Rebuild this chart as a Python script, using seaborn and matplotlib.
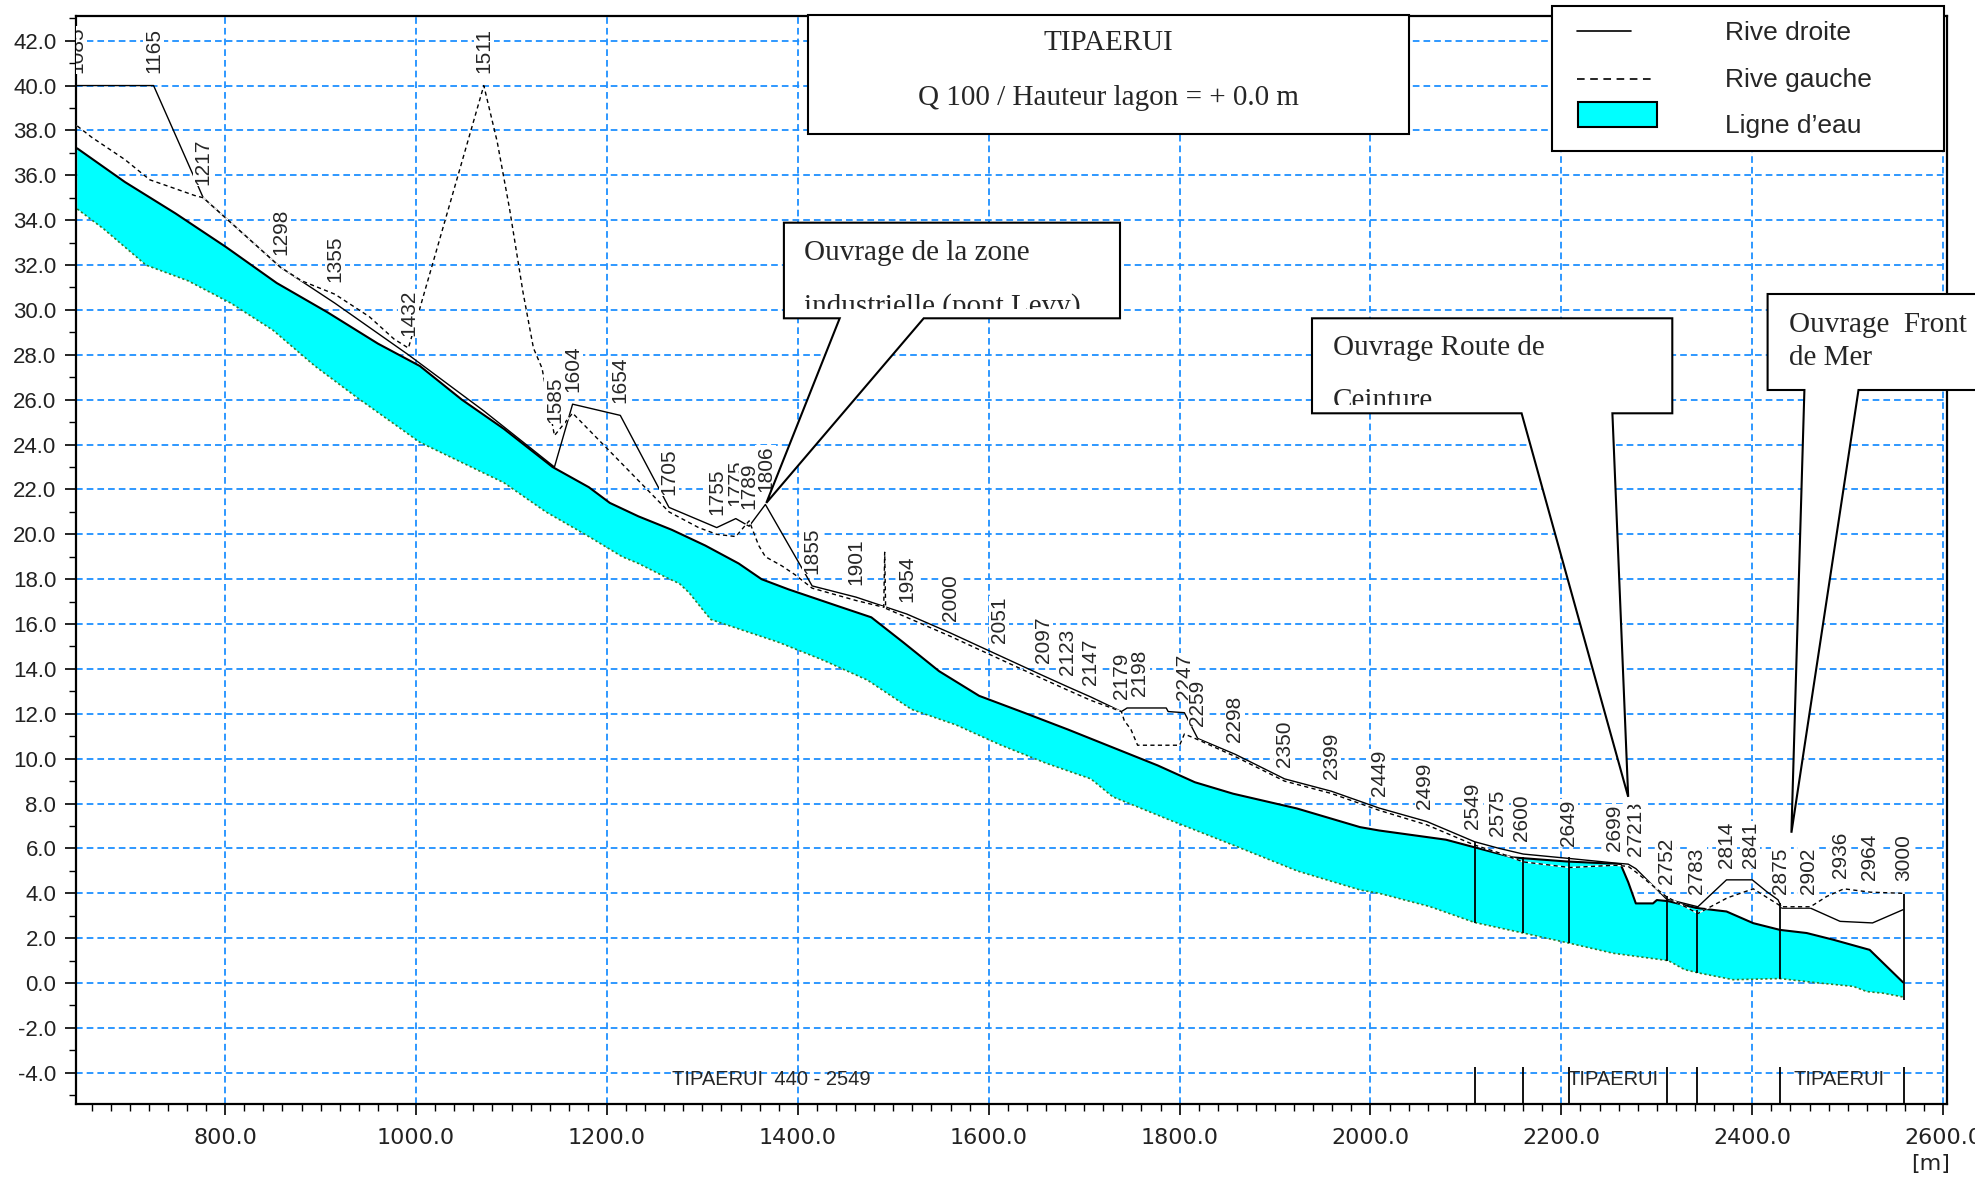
import numpy as np
import matplotlib
matplotlib.use("Agg")
import matplotlib.pyplot as plt
import seaborn as sns
from matplotlib.patches import Rectangle, Polygon
from matplotlib.lines import Line2D
from matplotlib.ticker import MultipleLocator, FormatStrFormatter

# long profile of the river, x = distance along axis [m], z = level [m]
# right bank (rive droite)
rb_x = [645, 725, 777, 858, 915, 992, 1071, 1145, 1164, 1214, 1265, 1315, 1335, 1349, 1366,
        1415, 1461, 1514, 1560, 1611, 1657, 1683, 1707, 1739, 1745, 1786, 1788, 1805, 1819,
        1858, 1910, 1959, 2009, 2059, 2109, 2135, 2160, 2209, 2256, 2270, 2278, 2310, 2343,
        2373, 2400, 2415, 2427, 2431, 2461, 2492, 2526, 2558]
rb_z = [40.0, 40.0, 35.0, 31.9, 30.3, 28.0, 25.5, 23.0, 25.8, 25.3, 21.2, 20.3, 20.7, 20.36, 21.33,
        17.7, 17.2, 16.45, 15.6, 14.6, 13.7, 13.2, 12.75, 12.1, 12.26, 12.26, 12.1, 12.05, 10.9,
        10.2, 9.1, 8.55, 7.8, 7.2, 6.3, 6.0, 5.75, 5.55, 5.35, 5.3, 5.1, 3.75, 3.4,
        4.6, 4.6, 4.08, 3.71, 3.34, 3.34, 2.75, 2.68, 3.27]

# left bank (rive gauche)
lb_x = [645, 660, 695, 721, 748, 768, 777, 858, 880, 915, 951, 977, 992, 1071, 1085, 1098, 1112,
        1123, 1132, 1145, 1164, 1265, 1296, 1315, 1335, 1349, 1359, 1366, 1383, 1397, 1415, 1461,
        1490, 1491, 1492, 1514, 1560, 1611, 1657, 1683, 1707, 1739, 1742, 1749, 1756, 1800, 1805,
        1819, 1858, 1910, 1959, 2009, 2059, 2109, 2135, 2160, 2209, 2256, 2270, 2278, 2310, 2343,
        2374, 2401, 2431, 2461, 2478, 2496, 2524, 2558]
lb_z = [38.2, 37.7, 36.7, 35.8, 35.4, 35.1, 35.0, 31.9, 31.3, 30.7, 29.7, 28.7, 28.3, 40.0, 37.5, 34.5, 30.8,
        28.3, 27.4, 24.4, 25.4, 21.0, 20.3, 20.0, 19.9, 20.6, 19.5, 19.0, 18.6, 18.2, 17.6, 17.05,
        16.75, 19.2, 16.7, 16.3, 15.45, 14.45, 13.55, 13.05, 12.6, 12.1, 11.7, 11.3, 10.6, 10.6, 11.1,
        10.85, 10.1, 9.0, 8.45, 7.7, 7.05, 6.15, 5.8, 5.4, 5.15, 5.25, 5.2, 4.95, 3.85, 3.1,
        3.8, 4.2, 3.4, 3.4, 3.86, 4.2, 4.05, 4.0]

# water surface (ligne d'eau) and river bed
water_x = [645, 695, 748, 801, 854, 907, 960, 1004, 1048, 1092, 1143, 1181, 1203, 1233, 1268, 1303,
           1338, 1362, 1390, 1442, 1477, 1510, 1548, 1590, 1637, 1683, 1730, 1777, 1816, 1856, 1923,
           1989, 2009, 2079, 2109, 2149, 2205, 2254, 2262, 2270, 2278, 2296, 2300, 2312, 2341, 2373,
           2401, 2429, 2457, 2485, 2523, 2558]
water_z = [37.2, 35.7, 34.3, 32.8, 31.2, 29.9, 28.5, 27.5, 26.0, 24.7, 23.0, 22.1, 21.4, 20.8, 20.2, 19.5,
           18.7, 18.0, 17.55, 16.8, 16.3, 15.2, 13.9, 12.8, 12.05, 11.3, 10.5, 9.7, 8.95, 8.44, 7.78,
           6.95, 6.8, 6.39, 6.05, 5.6, 5.42, 5.32, 5.3, 4.5, 3.55, 3.55, 3.7, 3.65, 3.35, 3.19,
           2.67, 2.37, 2.23, 1.93, 1.48, 0.03]
bed_x = [645, 673, 717, 761, 806, 850, 894, 938, 1004, 1048, 1092, 1136, 1181, 1216, 1233, 1261, 1276,
         1286, 1303, 1309, 1337, 1379, 1426, 1473, 1519, 1566, 1613, 1660, 1707, 1730, 1790, 1856,
         1923, 1989, 2009, 2062, 2109, 2160, 2208, 2254, 2312, 2329, 2345, 2380, 2429, 2464, 2506,
         2520, 2537, 2558]
bed_z = [34.5, 33.6, 32.0, 31.3, 30.3, 29.1, 27.5, 26.1, 24.1, 23.2, 22.3, 21.0, 19.9, 19.0, 18.7, 18.1, 17.8,
         17.4, 16.5, 16.2, 15.8, 15.2, 14.4, 13.5, 12.2, 11.5, 10.6, 9.8, 9.1, 8.3, 7.26, 6.15,
         5.0, 4.15, 4.0, 3.41, 2.7, 2.23, 1.78, 1.33, 1.0, 0.6, 0.44, 0.15, 0.2, 0.03, -0.15,
         -0.38, -0.45, -0.62]

# profile names (stations) and their position
stations = ['1085', '1165', '1217', '1298', '1355', '1432', '1511', '1585', '1604', '1654', '1705',
            '1755', '1775', '1789', '1806', '1855', '1901', '1954', '2000', '2051', '2097', '2123',
            '2147', '2179', '2198', '2247', '2259', '2298', '2350', '2399', '2449', '2499', '2549',
            '2575', '2600', '2649', '2699', '2713', '2721', '2752', '2783', '2814', '2841', '2875',
            '2902', '2936', '2964', '3000']
station_x = [645, 725, 777, 858, 915, 992, 1071, 1145, 1164, 1214, 1265, 1315, 1335, 1349, 1366,
             1415, 1461, 1514, 1560, 1611, 1657, 1683, 1707, 1739, 1758, 1805, 1819, 1858, 1910,
             1959, 2009, 2057, 2107, 2133, 2158, 2207, 2256, 2278, 2278, 2310, 2342, 2373, 2398,
             2430, 2459, 2492, 2523, 2559]

# structures (bridges) : vertical lines through the water
struct_x = [2109, 2160, 2208, 2311, 2342, 2429, 2559]
struct_top = [6.3, 5.6, 5.6, 3.86, 3.25, 3.57, 3.98]
struct_bot = [2.66, 2.23, 1.78, 1.0, 0.45, 0.2, -0.75]

reach_names = ['TIPAERUI  440 - 2549', 'TIPAERUI', 'TIPAERUI']
reach_x = [1372, 2254, 2491]

W, H = 1975, 1180
XMIN, XMAX = 643.5, 2603.5
YMIN, YMAX = -5.39, 43.1

sns.set_theme(style="ticks")
plt.rcParams['font.family'] = ['Liberation Sans', 'DejaVu Sans']
plt.rcParams['axes.unicode_minus'] = False
plt.rcParams['lines.scale_dashes'] = False

fig = plt.figure(figsize=(W / 100, H / 100), dpi=100)
fig.patch.set_facecolor('white')
ax = fig.add_axes([75.8 / W, 1 - 1104 / H, (1946.5 - 75.8) / W, (1104 - 16) / H])
ax.set_facecolor('white')

# water body
ax.fill(np.r_[water_x, bed_x[::-1]], np.r_[water_z, bed_z[::-1]],
        color='#00FFFF', lw=0, zorder=1)

sns.lineplot(x=bed_x, y=bed_z, ax=ax, color='#2f7d2f', lw=1.2, linestyle=(0, (1.6, 1.8)),
             sort=False, estimator=None, legend=False, zorder=2)
sns.lineplot(x=water_x, y=water_z, ax=ax, color='black', lw=1.5,
             sort=False, estimator=None, legend=False, zorder=3)
sns.lineplot(x=rb_x, y=rb_z, ax=ax, color='black', lw=1.0,
             sort=False, estimator=None, legend=False, zorder=3)
# dashed pen with opaque gaps
sns.lineplot(x=lb_x, y=lb_z, ax=ax, color='white', lw=1.0,
             sort=False, estimator=None, legend=False, zorder=3)
sns.lineplot(x=lb_x, y=lb_z, ax=ax, color='black', lw=1.0, linestyle=(0, (3, 2.4)),
             sort=False, estimator=None, legend=False, zorder=3.1)

ax.vlines(struct_x, struct_bot, struct_top, color='black', lw=1.3, zorder=3.2)
ax.vlines(struct_x, YMIN, -3.75, color='black', lw=1.3, zorder=3.2)

for name, xr in zip(reach_names, reach_x):
    ax.text(xr, -4.32, name, ha='center', va='center', fontsize=14.5, zorder=4)

# station labels sit just above the highest bank
lift = {'2713': 0.35}
for name, xs in zip(stations, station_x):
    top = max(np.interp(xs, rb_x, rb_z), np.interp(xs, lb_x, lb_z)) + 0.55 + lift.get(name, 0)
    ax.text(xs, top, name, rotation=90, ha='center', va='bottom', fontsize=15,
            bbox=dict(facecolor='white', edgecolor='none', pad=0.4), zorder=6, clip_on=True)

ax.set_xlim(XMIN, XMAX)
ax.set_ylim(YMIN, YMAX)
ax.xaxis.set_major_locator(MultipleLocator(200))
ax.xaxis.set_minor_locator(MultipleLocator(20))
ax.yaxis.set_major_locator(MultipleLocator(2))
ax.yaxis.set_minor_locator(MultipleLocator(1))
ax.xaxis.set_major_formatter(FormatStrFormatter('%.1f'))
ax.yaxis.set_major_formatter(FormatStrFormatter('%.1f'))
ax.set_axisbelow(True)
ax.grid(True, which='major', color='#1E90FF', linestyle=(0, (4.8, 2.9)), linewidth=1.3)
ax.tick_params(which='major', direction='out', length=8, width=1.2, color='black',
               bottom=True, left=True, top=False, right=False)
ax.tick_params(which='minor', direction='out', length=5, width=1.0, color='black',
               bottom=True, left=True, top=False, right=False)
ax.tick_params(axis='x', which='major', pad=9, labelsize=16, labelfontfamily='DejaVu Sans',
               labelcolor='#222222')
ax.tick_params(axis='y', which='major', pad=6, labelsize=16, labelcolor='#222222')
for sp in ax.spines.values():
    sp.set_color('black')
    sp.set_linewidth(1.6)
ax.set_xlabel('')
ax.set_ylabel('')

fig.text(1950 / W, 1 - 1164 / H, '[m]', ha='right', va='center', fontsize=16,
         family='DejaVu Sans', color='#222222')


def fx(px, py):
    return px / W, 1 - py / H


def rect(x0, y0, x1, y1, **kw):
    r = Rectangle(fx(x0, y1), (x1 - x0) / W, (y1 - y0) / H, transform=fig.transFigure, **kw)
    fig.add_artist(r)
    return r


serif = ['Liberation Serif', 'DejaVu Serif']

# title box
rect(807.6, 15, 1408.5, 134.3, facecolor='white', edgecolor='black', lw=1.5, zorder=10)
fig.text(*fx(1108, 43.3), 'TIPAERUI', ha='center', va='center', fontsize=21, family=serif, zorder=11)
fig.text(*fx(1108, 98.3), 'Q 100 / Hauteur lagon = + 0.0 m', ha='center', va='center',
         fontsize=21, family=serif, zorder=11)

# legend box
rect(1551.7, 6, 1943.5, 150.7, facecolor='white', edgecolor='black', lw=1.5, zorder=10)
fig.add_artist(Line2D([1577 / W, 1631 / W], [1 - 30.7 / H] * 2, transform=fig.transFigure,
                      color='black', lw=1.2, zorder=11))
fig.add_artist(Line2D([1577 / W, 1656 / W], [1 - 79 / H] * 2, transform=fig.transFigure,
                      color='black', lw=1.2, linestyle=(0, (5.5, 4)), zorder=11))
rect(1578, 102, 1657, 126.7, facecolor='#00FFFF', edgecolor='black', lw=1.5, zorder=11)
for txt, yy in zip(['Rive droite', 'Rive gauche', 'Ligne d\u2019eau'], [33, 80, 126]):
    fig.text(*fx(1724.6, yy), txt, ha='left', va='center', fontsize=19, zorder=11)


# callouts pointing at the structures
def callout(box, base, tip, lines, clip_bottom):
    x0, y0, x1, y1 = box
    tx, ty = ax.transData.transform(tip)
    tpx, tpy = tx, H - ty
    verts = [fx(x0, y0), fx(x1, y0), fx(x1, y1), fx(base[1], y1), fx(tpx, tpy),
             fx(base[0], y1), fx(x0, y1)]
    fig.add_artist(Polygon(verts, closed=True, transform=fig.transFigure, facecolor='white',
                           edgecolor='black', lw=1.5, zorder=10))
    clip = Rectangle(fx(x0, clip_bottom), (x1 - x0) / W, (clip_bottom - y0) / H,
                     transform=fig.transFigure, facecolor='none', edgecolor='none')
    for txt, lx, ly in lines:
        t = fig.text(*fx(lx, ly), txt, ha='left', va='baseline', fontsize=21, family=serif,
                     zorder=11)
        t.set_clip_path(clip)


callout((783.9, 222.7, 1120, 318.3), (839.7, 923.7), (1367, 21.4),
        [('Ouvrage de la zone', 804.5, 260), ('industrielle (pont Levy)', 804.5, 313.3)], 309)
callout((1312, 318.3, 1672.3, 413.3), (1521.6, 1612.4), (2270, 8.3),
        [('Ouvrage Route de', 1333.2, 355), ('Ceinture', 1333.2, 408.3)], 405)
callout((1767.6, 294, 1990, 390), (1804.4, 1858.5), (2441, 6.7),
        [('Ouvrage  Front', 1788.9, 331.7), ('de Mer', 1788.9, 365)], 388)

fig.savefig('out.png', dpi=100, facecolor='white')
